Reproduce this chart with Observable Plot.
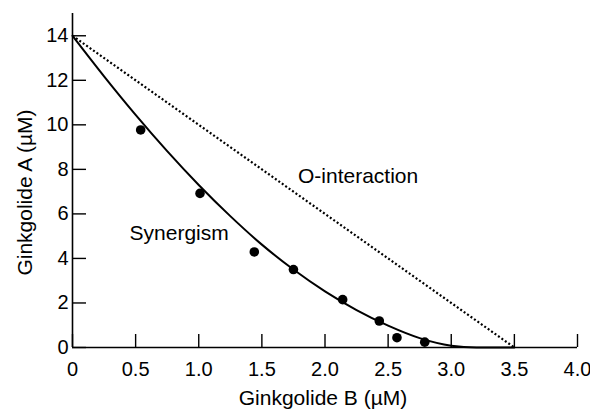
<!DOCTYPE html>
<html>
<head>
<meta charset="utf-8">
<script src="https://cdn.jsdelivr.net/npm/d3@7"></script>
<script src="https://cdn.jsdelivr.net/npm/@observablehq/plot@0.6"></script>
<style>
  html, body { margin: 0; padding: 0; background: #fff; }
  #chart svg { display: block; }
</style>
</head>
<body>
<div id="chart"></div>
<script>
// Measured data points (Ginkgolide B, Ginkgolide A)
const pointsB = [0.54, 1.01, 1.44, 1.75, 2.14, 2.43, 2.57, 2.79];
const pointsA = [9.77, 6.92, 4.29, 3.50, 2.15, 1.19, 0.44, 0.24];

// Fitted isobole (synergism curve)
const curveB = [0, 0.25, 0.5, 0.75, 1.0, 1.25, 1.5, 1.75, 2.0, 2.25, 2.5, 2.75, 3.0, 3.2, 3.5];
const curveA = [14, 12.18, 10.45, 8.82, 7.30, 5.90, 4.62, 3.50, 2.52, 1.68, 0.98, 0.42, 0.08, 0, 0];

// Additive (zero-interaction) line
const additiveB = [0, 3.5];
const additiveA = [14, 0];

// Tick values
const xTicks = [0, 0.5, 1.0, 1.5, 2.0, 2.5, 3.0, 3.5, 4.0];
const yTicks = [0, 2, 4, 6, 8, 10, 12, 14];

const xTitle = "Ginkgolide B (µM)";
const yTitle = "Ginkgolide A (µM)";
const annotationTexts = ["Synergism", "O-interaction"];
const annotationB = [0.452, 1.786];
const annotationA = [5.13, 7.67];

const points = pointsB.map((b, i) => ({b, a: pointsA[i]}));
const curve = curveB.map((b, i) => ({b, a: curveA[i]}));
const additive = additiveB.map((b, i) => ({b, a: additiveA[i]}));
const annotations = annotationTexts.map((t, i) => ({t, b: annotationB[i], a: annotationA[i]}));

const font = "'Liberation Sans', Arial, Helvetica, sans-serif";

const chart = Plot.plot({
  width: 590,
  height: 410,
  marginLeft: 72,
  marginRight: 13,
  marginTop: 13,
  marginBottom: 63,
  style: {fontFamily: font, background: "#fff", color: "#000"},
  x: {domain: [0, 4], label: null},
  y: {domain: [0, 15], label: null},
  marks: [
    Plot.axisX({
      ticks: xTicks,
      tickSize: -13,
      tickPadding: 27,
      strokeWidth: 1.4,
      fontSize: 20,
      tickFormat: d => d === 0 ? "0" : d.toFixed(1),
      label: null
    }),
    Plot.axisY({
      ticks: yTicks,
      tickSize: -14,
      tickPadding: 18,
      strokeWidth: 1.4,
      fontSize: 20,
      tickFormat: d => String(d),
      label: null
    }),
    Plot.ruleY([0], {stroke: "#000", strokeWidth: 1.6}),
    Plot.ruleX([0], {stroke: "#000", strokeWidth: 1.6}),
    Plot.line(additive, {
      x: "b", y: "a",
      stroke: "#000",
      strokeWidth: 2.2,
      strokeDasharray: "2,2.2",
      strokeLinecap: "butt"
    }),
    Plot.line(curve, {
      x: "b", y: "a",
      curve: "monotone-x",
      stroke: "#000",
      strokeWidth: 2
    }),
    Plot.dot(points, {x: "b", y: "a", r: 4.8, fill: "#000", stroke: "none"}),
    Plot.text(annotations, {
      x: "b", y: "a", text: "t",
      textAnchor: "start",
      lineAnchor: "middle",
      fontSize: 21,
      fill: "#000"
    }),
    Plot.text([xTitle], {
      frameAnchor: "bottom",
      textAnchor: "middle",
      dx: -2,
      dy: 57,
      lineAnchor: "bottom",
      fontSize: 21,
      fill: "#000"
    }),
    Plot.text([yTitle], {
      frameAnchor: "left",
      textAnchor: "middle",
      rotate: -90,
      dx: -41,
      dy: 12,
      lineAnchor: "bottom",
      fontSize: 21,
      fill: "#000"
    })
  ]
});

document.getElementById("chart").appendChild(chart);
</script>
</body>
</html>
